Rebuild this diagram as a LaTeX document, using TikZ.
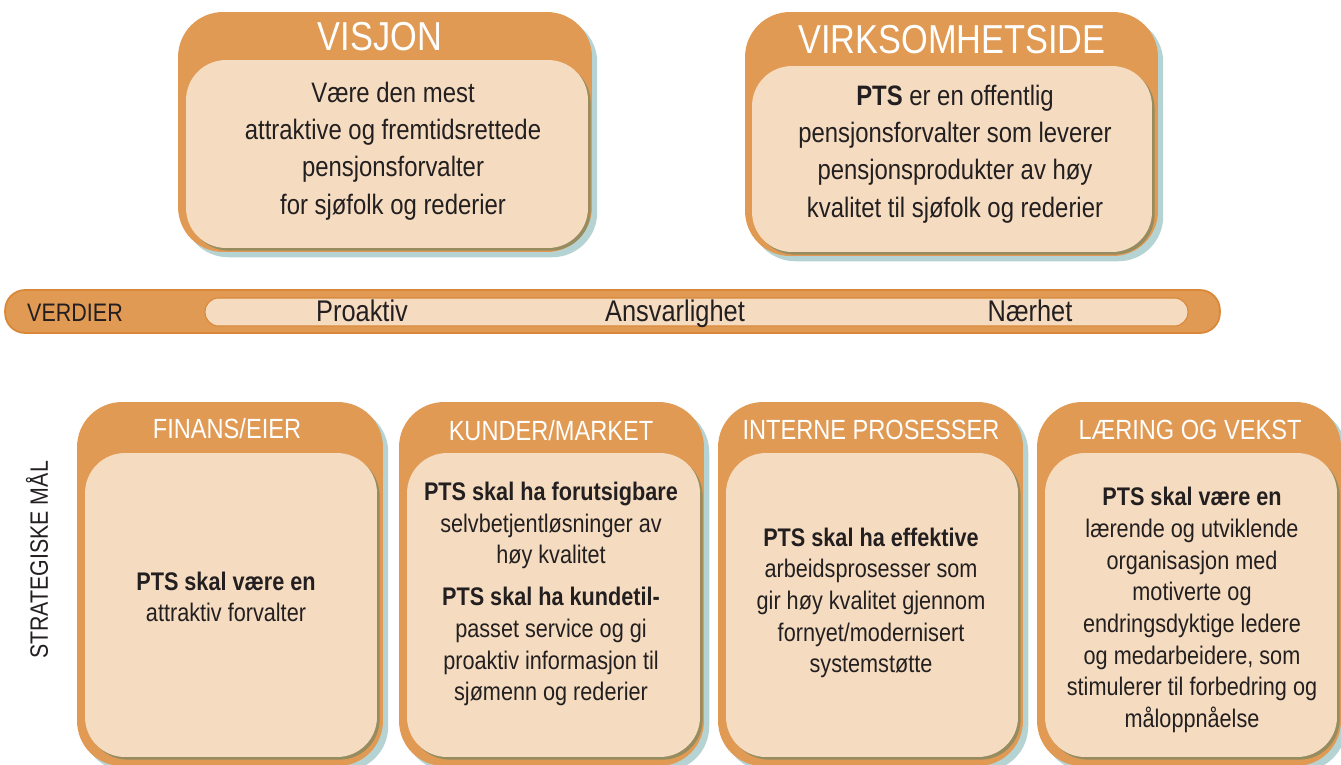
\documentclass[tikz,border=0pt]{standalone}
\usepackage{fontspec}
\setmainfont{Liberation Sans}[FakeStretch=0.85]
\usepackage{xcolor}
\usetikzlibrary{shapes,positioning,calc,shadows}

\definecolor{ptsorange}{RGB}{224,154,84}
\definecolor{ptspeach}{RGB}{245,220,192}
\definecolor{ptsshadow}{RGB}{150,192,192}
\definecolor{ptsolive}{RGB}{150,140,96}
\definecolor{ptsedge}{RGB}{216,136,56}
\definecolor{ptstext}{RGB}{35,31,32}

\begin{document}
\begin{tikzpicture}[
    x=0.02cm, y=-0.02cm,
    every node/.style={text=ptstext},
    outerbox/.style={rectangle, fill=ptsorange, rounded corners=0.9cm, inner sep=0pt,
        general shadow={fill=ptsshadow, shadow xshift=3pt, shadow yshift=-3pt, opacity=0.7}},
    innerbox/.style={rectangle, fill=ptspeach, rounded corners=0.8cm, inner sep=0pt,
        general shadow={fill=ptsolive, shadow xshift=1.5pt, shadow yshift=-1.5pt}},
    bigtitle/.style={text=white, font=\fontsize{23}{26}\selectfont},
    headtitle/.style={text=white, font=\fontsize{15.8}{18}\selectfont},
    toptext/.style={align=center, font=\fontsize{16}{21.3}\selectfont},
    boxtext/.style={align=center, font=\fontsize{14.5}{18}\selectfont},
    bartext/.style={anchor=base, font=\fontsize{17}{20}\selectfont}
]

\useasboundingbox (0,0) rectangle (1341,764);
\clip (0,0) rectangle (1341,764);

% top row
\node[outerbox, minimum width=8.28cm, minimum height=4.8cm] (visjon) at (385,132) {};
\node[innerbox, minimum width=8.04cm, minimum height=3.76cm] (visjonIn) at (387,154) {};
\node[bigtitle] (visjonTitle) at (380,37) {VISJON};
\node[toptext] (visjonTxt) at (393,151) {Være den mest\\attraktive og fremtidsrettede\\pensjonsforvalter\\for sjøfolk og rederier};

\node[outerbox, minimum width=8.26cm, minimum height=4.88cm] (virk) at (951.5,134) {};
\node[innerbox, minimum width=8cm, minimum height=3.72cm] (virkIn) at (952,159) {};
\node[bigtitle] (virkTitle) at (952,40) {VIRKSOMHETSIDE};
\node[toptext] (virkTxt) at (955,154) {\textbf{PTS} er en offentlig\\pensjonsforvalter som leverer\\pensjonsprodukter av høy\\kvalitet til sjøfolk og rederier};

% verdier
\node[rectangle, rounded corners=0.4cm, fill=ptsorange, draw=ptsedge, line width=1pt,
      minimum width=24.3cm, minimum height=0.86cm] (verdier) at (612.5,311.5) {};
\node[rectangle, rounded corners=0.27cm, fill=ptspeach, draw=ptsedge, line width=0.6pt,
      minimum width=19.66cm, minimum height=0.56cm] (verdierIn) at (696.5,312) {};
\node[bartext, font=\fontsize{14.4}{17}\selectfont] (verdierLbl) at (75,321) {VERDIER};
\node[bartext] (proaktiv) at (362,321) {Proaktiv};
\node[bartext] (ansvar) at (675,321) {Ansvarlighet};
\node[bartext] (naerhet) at (1030,321) {Nærhet};

% strategiske maal
\node[rotate=90, font=\fontsize{14.3}{17}\selectfont] (strategisk) at (37,560) {STRATEGISKE MÅL};

\node[outerbox, minimum width=6.12cm, minimum height=7.28cm] (finans) at (230,584) {};
\node[innerbox, minimum width=5.84cm, minimum height=6.08cm] (finansIn) at (231,605) {};
\node[headtitle] (finansTitle) at (227,429) {FINANS/EIER};
\node[boxtext] (finansTxt) at (226,597) {\textbf{PTS skal være en}\\attraktiv forvalter};

\node[outerbox, minimum width=6.1cm, minimum height=7.28cm] (kunder) at (551.5,584) {};
\node[innerbox, minimum width=5.86cm, minimum height=6.08cm] (kunderIn) at (553.5,605) {};
\node[headtitle] (kunderTitle) at (551,431) {KUNDER/MARKET};
\node[boxtext] (kunderTxt) at (551,594) {\textbf{PTS skal ha forutsigbare}\\selvbetjentløsninger av\\høy kvalitet\\[6pt]
  \textbf{PTS skal ha kundetil-}\\passet service og gi\\proaktiv informasjon til\\sjømenn og rederier};

\node[outerbox, minimum width=6.1cm, minimum height=7.28cm] (interne) at (870.5,584) {};
\node[innerbox, minimum width=5.84cm, minimum height=6.08cm] (interneIn) at (872,605) {};
\node[headtitle] (interneTitle) at (871,430) {INTERNE PROSESSER};
\node[boxtext] (interneTxt) at (871,603) {\textbf{PTS skal ha effektive}\\arbeidsprosesser som\\gir høy kvalitet gjennom\\fornyet/modernisert\\systemstøtte};

\node[outerbox, minimum width=6.08cm, minimum height=7.28cm] (laering) at (1189,584) {};
\node[innerbox, minimum width=5.84cm, minimum height=6.08cm] (laeringIn) at (1191,605) {};
\node[headtitle] (laeringTitle) at (1190,430) {LÆRING OG VEKST};
\node[boxtext] (laeringTxt) at (1192,610) {\textbf{PTS skal være en}\\lærende og utviklende\\organisasjon med\\motiverte og\\endringsdyktige ledere\\og medarbeidere, som\\stimulerer til forbedring og\\måloppnåelse};

\end{tikzpicture}
\end{document}
